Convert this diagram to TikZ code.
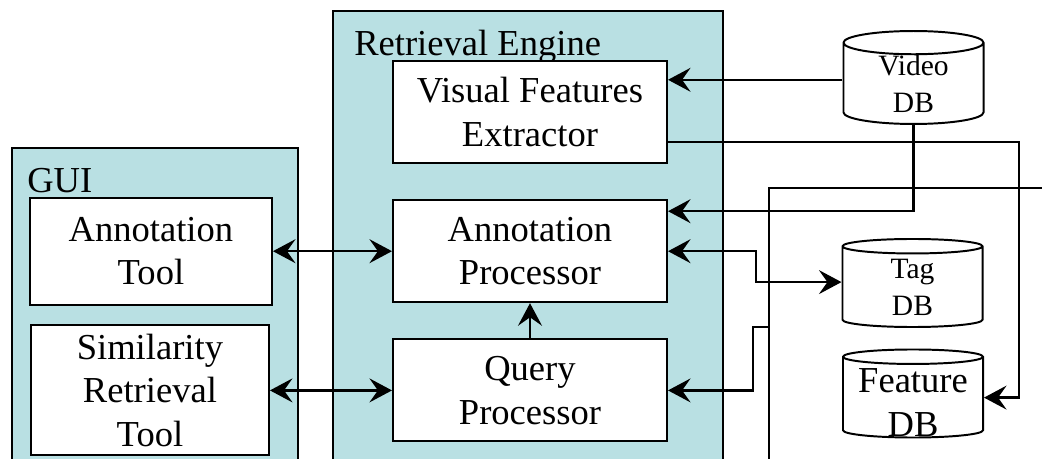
\documentclass[tikz,border=0pt]{standalone}
\usepackage{fontspec}
\setmainfont{Liberation Serif}
\usetikzlibrary{shapes.geometric, arrows.meta, positioning, calc}
\definecolor{panelcyan}{RGB}{185,224,227}
\tikzset{
    block/.style={
        rectangle, minimum width=6.85cm, minimum height=2.55cm,
        text centered, draw=black, fill=white, line width=1.4pt, align=center,
        font=\fontsize{26}{31}\selectfont
    },
    panel/.style={draw=black, fill=panelcyan, line width=1.4pt},
    dbase/.style={
        cylinder, shape border rotate=90, aspect=0.33, draw=black, fill=white,
        line width=1.4pt, minimum width=3.5cm, minimum height=2.2cm,
        align=center, inner sep=0pt, font=\fontsize{21}{26}\selectfont
    },
    arrow/.style={line width=1.8pt, -{Stealth[length=16pt, width=17pt, inset=6pt]}},
    biarrow/.style={line width=1.8pt,
        {Stealth[length=16pt, width=17pt, inset=6pt]}-{Stealth[length=16pt, width=17pt, inset=6pt]}},
    link/.style={line width=1.8pt}
}
\begin{document}
\begin{tikzpicture}[x=0.025cm, y=-0.025cm]
    \useasboundingbox (0,0) rectangle (1042,459);
    \clip (0,0) rectangle (1042,459);
    % the two panels run off the bottom edge
    \draw[panel] (12,148) rectangle (298,500);
    \draw[panel] (333,11) rectangle (723,500);
    \node (guilabel) [anchor=base west, inner sep=0pt, font=\fontsize{26}{31}\selectfont] at (27,193) {GUI};
    \node (relabel) [anchor=base west, inner sep=0pt, font=\fontsize{26}{31}\selectfont] at (354,56) {Retrieval Engine};

    \node (vfe) [block] at (530,112) {Visual Features\\Extractor};
    \node (annproc) [block, below=0.88cm of vfe] {Annotation\\Processor};
    \node (qproc) [block, below=0.88cm of annproc] {Query\\Processor};
    \node (anntool) [block, minimum width=6.05cm, minimum height=2.675cm, left=2.975cm of annproc] {Annotation\\Tool};
    \node (simtool) [block, minimum width=5.95cm, minimum height=3.25cm, left=3.05cm of qproc] {Similarity\\Retrieval\\Tool};

    \node (videodb) [dbase, anchor=shape center] at (913.5,77.5) {Video\\DB};
    \node (tagdb) [dbase, anchor=shape center] at (912.5,283) {Tag\\DB};
    % larger text than the cylinder holds, so it sits on top
    \node (featdb) [dbase, anchor=shape center] at (913,393.5) {\phantom{Tag}\\\phantom{DB}};
    \node (feattext) [align=center, inner sep=0pt, font=\fontsize{26}{31}\selectfont]
        at ($(featdb.shape center)+(0,9)$) {Feature\\DB};

    \coordinate (videoport) at ($(videodb.west)+(0,-4)$);
    \coordinate (tagport) at ($(tagdb.west)+(0,-5)$);

    \draw[biarrow] (anntool) -- (annproc);
    \draw[biarrow] (simtool) -- (qproc);
    \draw[arrow] (qproc) -- (annproc);
    \draw[arrow] (videoport) -- (videoport -| vfe.east);
    \draw[arrow] (videodb.south) |- ($(annproc.north east)+(0,12)$);
    \draw[arrow] ($(vfe.east)+(0,30)$) -| ($(featdb.east)+(35,0)$) -- (featdb.east);
    \draw[biarrow] (annproc.east) -- ++(88,0) |- (tagport);
    % feed coming in from the right, branching down to the query side
    \coordinate (feedin) at (1050,188);
    \coordinate (feedout) at (769,470);
    \draw[link] (feedin) -| (feedout);
    \coordinate (tap) at (769,327);
    \draw[arrow] (tap) -- ++(-16,0) |- (qproc.east);
\end{tikzpicture}
\end{document}
